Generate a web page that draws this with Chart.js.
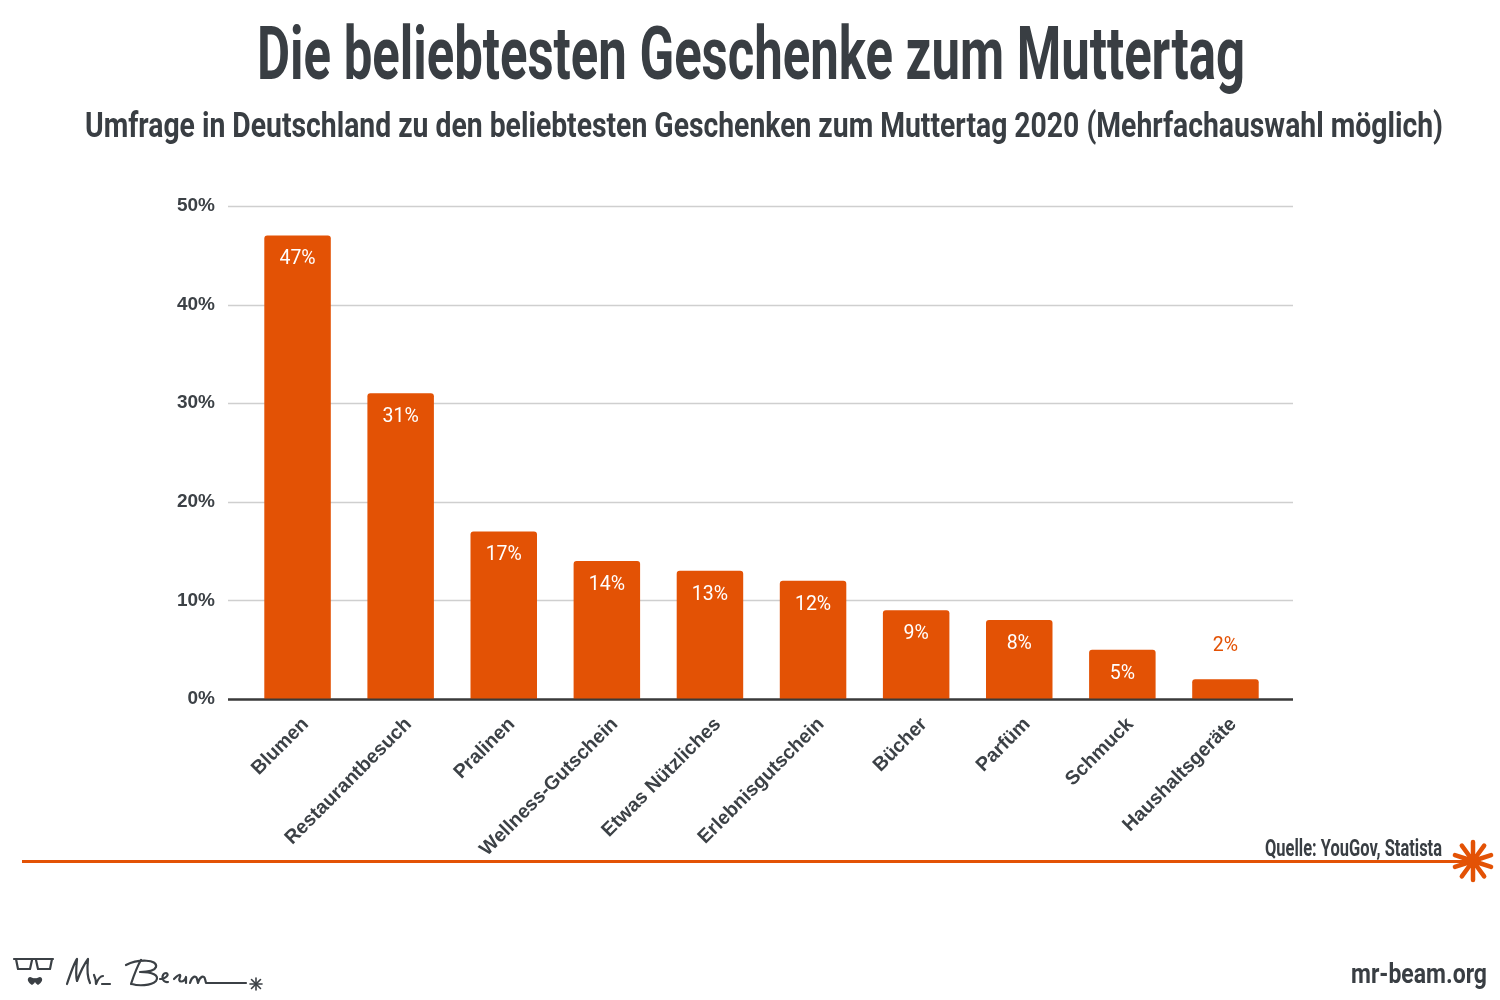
<!DOCTYPE html>
<html>
<head>
<meta charset="utf-8">
<script src="https://cdn.jsdelivr.net/npm/chart.js@4.4.1/dist/chart.umd.min.js"></script>
<style>
  html,body{margin:0;padding:0;background:#fff;}
  #wrap{position:relative;width:1500px;height:1000px;overflow:hidden;background:#fff;}
  #c{position:absolute;left:0;top:0;}
  .cond{position:absolute;white-space:nowrap;font-family:Roboto,"Noto Sans",sans-serif;font-weight:700;color:#393e43;transform-origin:left top;}
</style>
</head>
<body>
<div id="wrap">
  <canvas id="c" width="1500" height="1000"></canvas>
  <div id="title" class="cond" style="font-size:75px;">Die beliebtesten Geschenke zum Muttertag</div>
  <div id="subtitle" class="cond" style="font-size:35px;">Umfrage in Deutschland zu den beliebtesten Geschenken zum Muttertag 2020 (Mehrfachauswahl möglich)</div>
  <div id="source" class="cond" style="font-size:23px;">Quelle: YouGov, Statista</div>
  <div id="site" class="cond" style="font-size:28px;">mr-beam.org</div>
  <svg id="logo" style="position:absolute;left:10px;top:955px;" width="260" height="40" viewBox="0 0 260 40">
    <g fill="none" stroke="#3b4045" stroke-width="2.2" stroke-linecap="round" stroke-linejoin="round">
      <path d="M4 4 H43 M6 4 L8 14 H20 L22 5 M26 5 L28 14 H40 L42 4"/>
      <path d="M57 29 C60 20 64 8 67 4 C66 14 66 22 67 26 C70 18 75 8 78 4 C77 14 77 22 80 28 M84 20 C86 24 86 28 86 29 C88 24 90 21 93 21 M92 29 H100"/>
      <path d="M121 29 C124 20 128 10 131 5 M116 10 C128 4 148 4 146 12 C144 17 132 17 130 17 C142 17 150 20 146 26 C141 31 128 31 122 29 M150 24 C156 24 160 19 156 18 C151 18 151 28 158 27 M164 24 C169 19 171 19 170 22 C167 28 174 28 176 22 L176 28 M180 28 C182 21 186 20 187 24 L188 28 C190 21 194 20 195 24 L196 28 H236"/>
    </g>
    <path d="M64 33 C60 31 58 26 62 25 C64 25 65 27 67 26 C69 27 70 25 72 25 C76 26 74 31 70 33 C68 32 67 30 67 30 C67 30 66 32 64 33 Z" transform="translate(-42,-3)" fill="#3b4045"/>
    <g stroke="#3b4045" stroke-width="1.6" stroke-linecap="round" transform="translate(246,29)">
      <line x1="-6" y1="0" x2="6" y2="0"/><line x1="0" y1="-6" x2="0" y2="6"/>
      <line x1="-4.5" y1="-4.5" x2="4.5" y2="4.5"/><line x1="-4.5" y1="4.5" x2="4.5" y2="-4.5"/>
    </g>
  </svg>
</div>
<script>
const categories = ["Blumen","Restaurantbesuch","Pralinen","Wellness-Gutschein","Etwas Nützliches","Erlebnisgutschein","Bücher","Parfüm","Schmuck","Haushaltsgeräte"];
const values = [47,31,17,14,13,12,9,8,5,2];
const yTicks = [0,10,20,30,40,50];

const ORANGE = "#E35205";
const DARK = "#3c4146";

function place(id, x, y, targetW, align){
  const el = document.getElementById(id);
  const w = el.getBoundingClientRect().width;
  const s = targetW / w;
  let left = x;
  if (align === 'center') left = x - targetW/2;
  if (align === 'right') left = x - targetW;
  el.style.left = left + 'px';
  el.style.top = y + 'px';
  el.style.transform = 'scaleX(' + s + ')';
}

const gridPlugin = {
  id: 'gridExt',
  beforeDatasetsDraw(chart){
    const ctx = chart.ctx, y = chart.scales.y;
    ctx.save();
    yTicks.forEach(v => {
      const py = Math.round(y.getPixelForValue(v)) + 0.5;
      ctx.beginPath();
      ctx.moveTo(228, py); ctx.lineTo(1293, py);
      if (v === 0) { ctx.strokeStyle = '#3a3a3a'; ctx.lineWidth = 2; }
      else { ctx.strokeStyle = '#cfcfcf'; ctx.lineWidth = 1.5; }
      ctx.stroke();
    });
    ctx.restore();
  },
  afterDatasetsDraw(chart){
    const ctx = chart.ctx;
    const meta = chart.getDatasetMeta(0);
    ctx.save();
    ctx.font = '400 19.5px Roboto, sans-serif';
    ctx.textAlign = 'center';
    ctx.textBaseline = 'middle';
    meta.data.forEach((bar, i) => {
      const v = values[i];
      const txt = v + '%';
      if (v < 4) { ctx.fillStyle = ORANGE; ctx.fillText(txt, bar.x, bar.y - 33); }
      else { ctx.fillStyle = '#ffffff'; ctx.fillText(txt, bar.x, bar.y + 24); }
    });
    const y0 = Math.round(chart.scales.y.getPixelForValue(0)) + 0.5;
    ctx.beginPath(); ctx.moveTo(228, y0); ctx.lineTo(1293, y0);
    ctx.strokeStyle = '#3a3a3a'; ctx.lineWidth = 2; ctx.stroke();
    ctx.restore();
  },
  afterDraw(chart){
    const ctx = chart.ctx;
    ctx.save();
    ctx.beginPath(); ctx.moveTo(22, 861.5); ctx.lineTo(1470, 861.5);
    ctx.strokeStyle = ORANGE; ctx.lineWidth = 3; ctx.stroke();
    ctx.lineCap = 'round'; ctx.lineWidth = 4.5;
    const cx = 1473, cy = 861;
    for (let k = 0; k < 10; k++) {
      const a = k * Math.PI / 5 + Math.PI/10;
      ctx.beginPath();
      ctx.moveTo(cx + Math.cos(a) * 4, cy + Math.sin(a) * 4);
      ctx.lineTo(cx + Math.cos(a) * 19, cy + Math.sin(a) * 19);
      ctx.stroke();
    }
    ctx.beginPath(); ctx.arc(cx, cy, 7, 0, Math.PI*2); ctx.fillStyle = ORANGE; ctx.fill();
    ctx.restore();
  }
};

new Chart(document.getElementById('c'), {
  type: 'bar',
  data: {
    labels: categories,
    datasets: [{
      data: values,
      backgroundColor: ORANGE,
      borderRadius: {topLeft: 3, topRight: 3, bottomLeft: 0, bottomRight: 0},
      borderSkipped: 'bottom',
      barPercentage: 0.645,
      categoryPercentage: 1.0
    }]
  },
  options: {
    responsive: false,
    animation: false,
    events: [],
    layout: { padding: { left: 146, right: 223, top: 206, bottom: 101 } },
    plugins: { legend: { display: false }, tooltip: { enabled: false } },
    scales: {
      x: {
        afterFit(s){ s.height = 200; },
        grid: { display: false, drawTicks: false },
        border: { display: false },
        ticks: {
          minRotation: 45, maxRotation: 45, padding: 14, labelOffset: 8,
          color: DARK,
          font: { family: '"Liberation Sans", Arial, sans-serif', weight: 'bold', size: 19.5 }
        }
      },
      y: {
        min: 0, max: 50,
        afterFit(s){ s.width = 100; },
        afterBuildTicks(s){ s.ticks = yTicks.map(v => ({value: v})); },
        grid: { display: false, drawTicks: false },
        border: { display: false },
        ticks: {
          padding: 31,
          color: DARK,
          font: { family: '"Liberation Sans", Arial, sans-serif', weight: 'bold', size: 19 },
          callback: v => v + '%'
        }
      }
    }
  },
  plugins: [gridPlugin]
});

place('title', 751, 9, 988, 'center');
place('subtitle', 764, 105, 1358, 'center');
place('source', 1442, 835, 177, 'right');
place('site', 1487, 957, 136, 'right');
</script>
</body>
</html>
